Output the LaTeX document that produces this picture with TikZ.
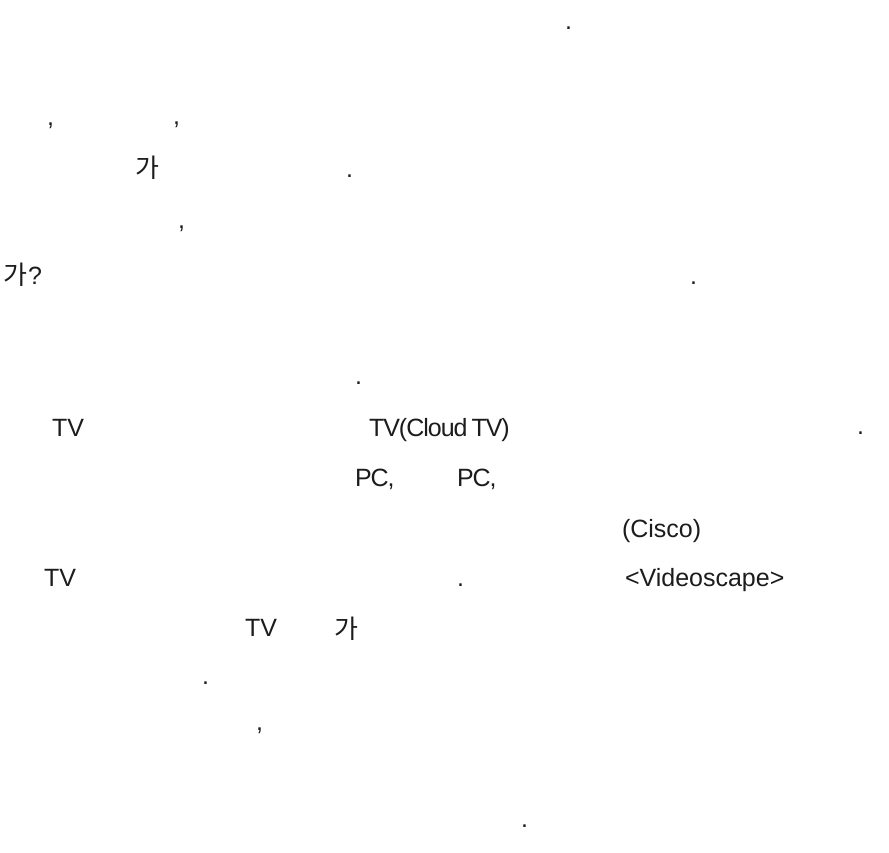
\documentclass[tikz,border=0pt]{standalone}
\usepackage{fontspec}
\setmainfont{Liberation Sans}
\newfontfamily\kofont{Noto Sans CJK KR}
\definecolor{ink}{HTML}{1C1C1C}
\begin{document}
\begin{tikzpicture}[x=1pt,y=-1pt,
  txt/.style={anchor=base west,inner sep=0pt,outer sep=0pt,text=ink,font=\fontsize{25}{25}\selectfont},
  tight/.style={txt,font=\fontsize{25}{25}\selectfont\addfontfeature{LetterSpace=-4}},
  ko/.style={txt,font=\kofont\fontsize{26}{26}\selectfont}]
\useasboundingbox (0,0) rectangle (889,853);
\node[txt] (p0) at (565,30) {.};
\node[txt] (c1a) at (47,126) {,};
\node[txt] (c1b) at (173,125) {,};
\node[ko] (k2) at (135,178) {가};
\node[txt] (p2) at (346,178) {.};
\node[txt] (c3) at (178,229) {,};
\node[ko] (k4) at (4,284) {가};
\node[txt] (q4) at (28,284) {?};
\node[txt] (p4) at (690,284) {.};
\node[txt] (p5) at (355,384) {.};
\node[txt] (tv6a) at (52,436) {TV};
\node[tight] (tv6b) at (369,436) {TV(Cloud\hspace{-2pt} TV)};
\node[txt] (p6) at (857,434) {.};
\node[tight] (pc7a) at (355,486) {PC,};
\node[tight] (pc7b) at (457,486) {PC,};
\node[txt] (ci8) at (622,537) {(Cisco)};
\node[txt] (tv9) at (44,586) {TV};
\node[txt] (p9) at (457,586) {.};
\node[txt] (vs9) at (625,586) {<Videoscape>};
\node[txt] (tv10) at (245,636) {TV};
\node[ko] (k10) at (334,638) {가};
\node[txt] (p11) at (202,684) {.};
\node[txt] (c12) at (256,730) {,};
\node[txt] (p13) at (521,827) {.};
\end{tikzpicture}
\end{document}
